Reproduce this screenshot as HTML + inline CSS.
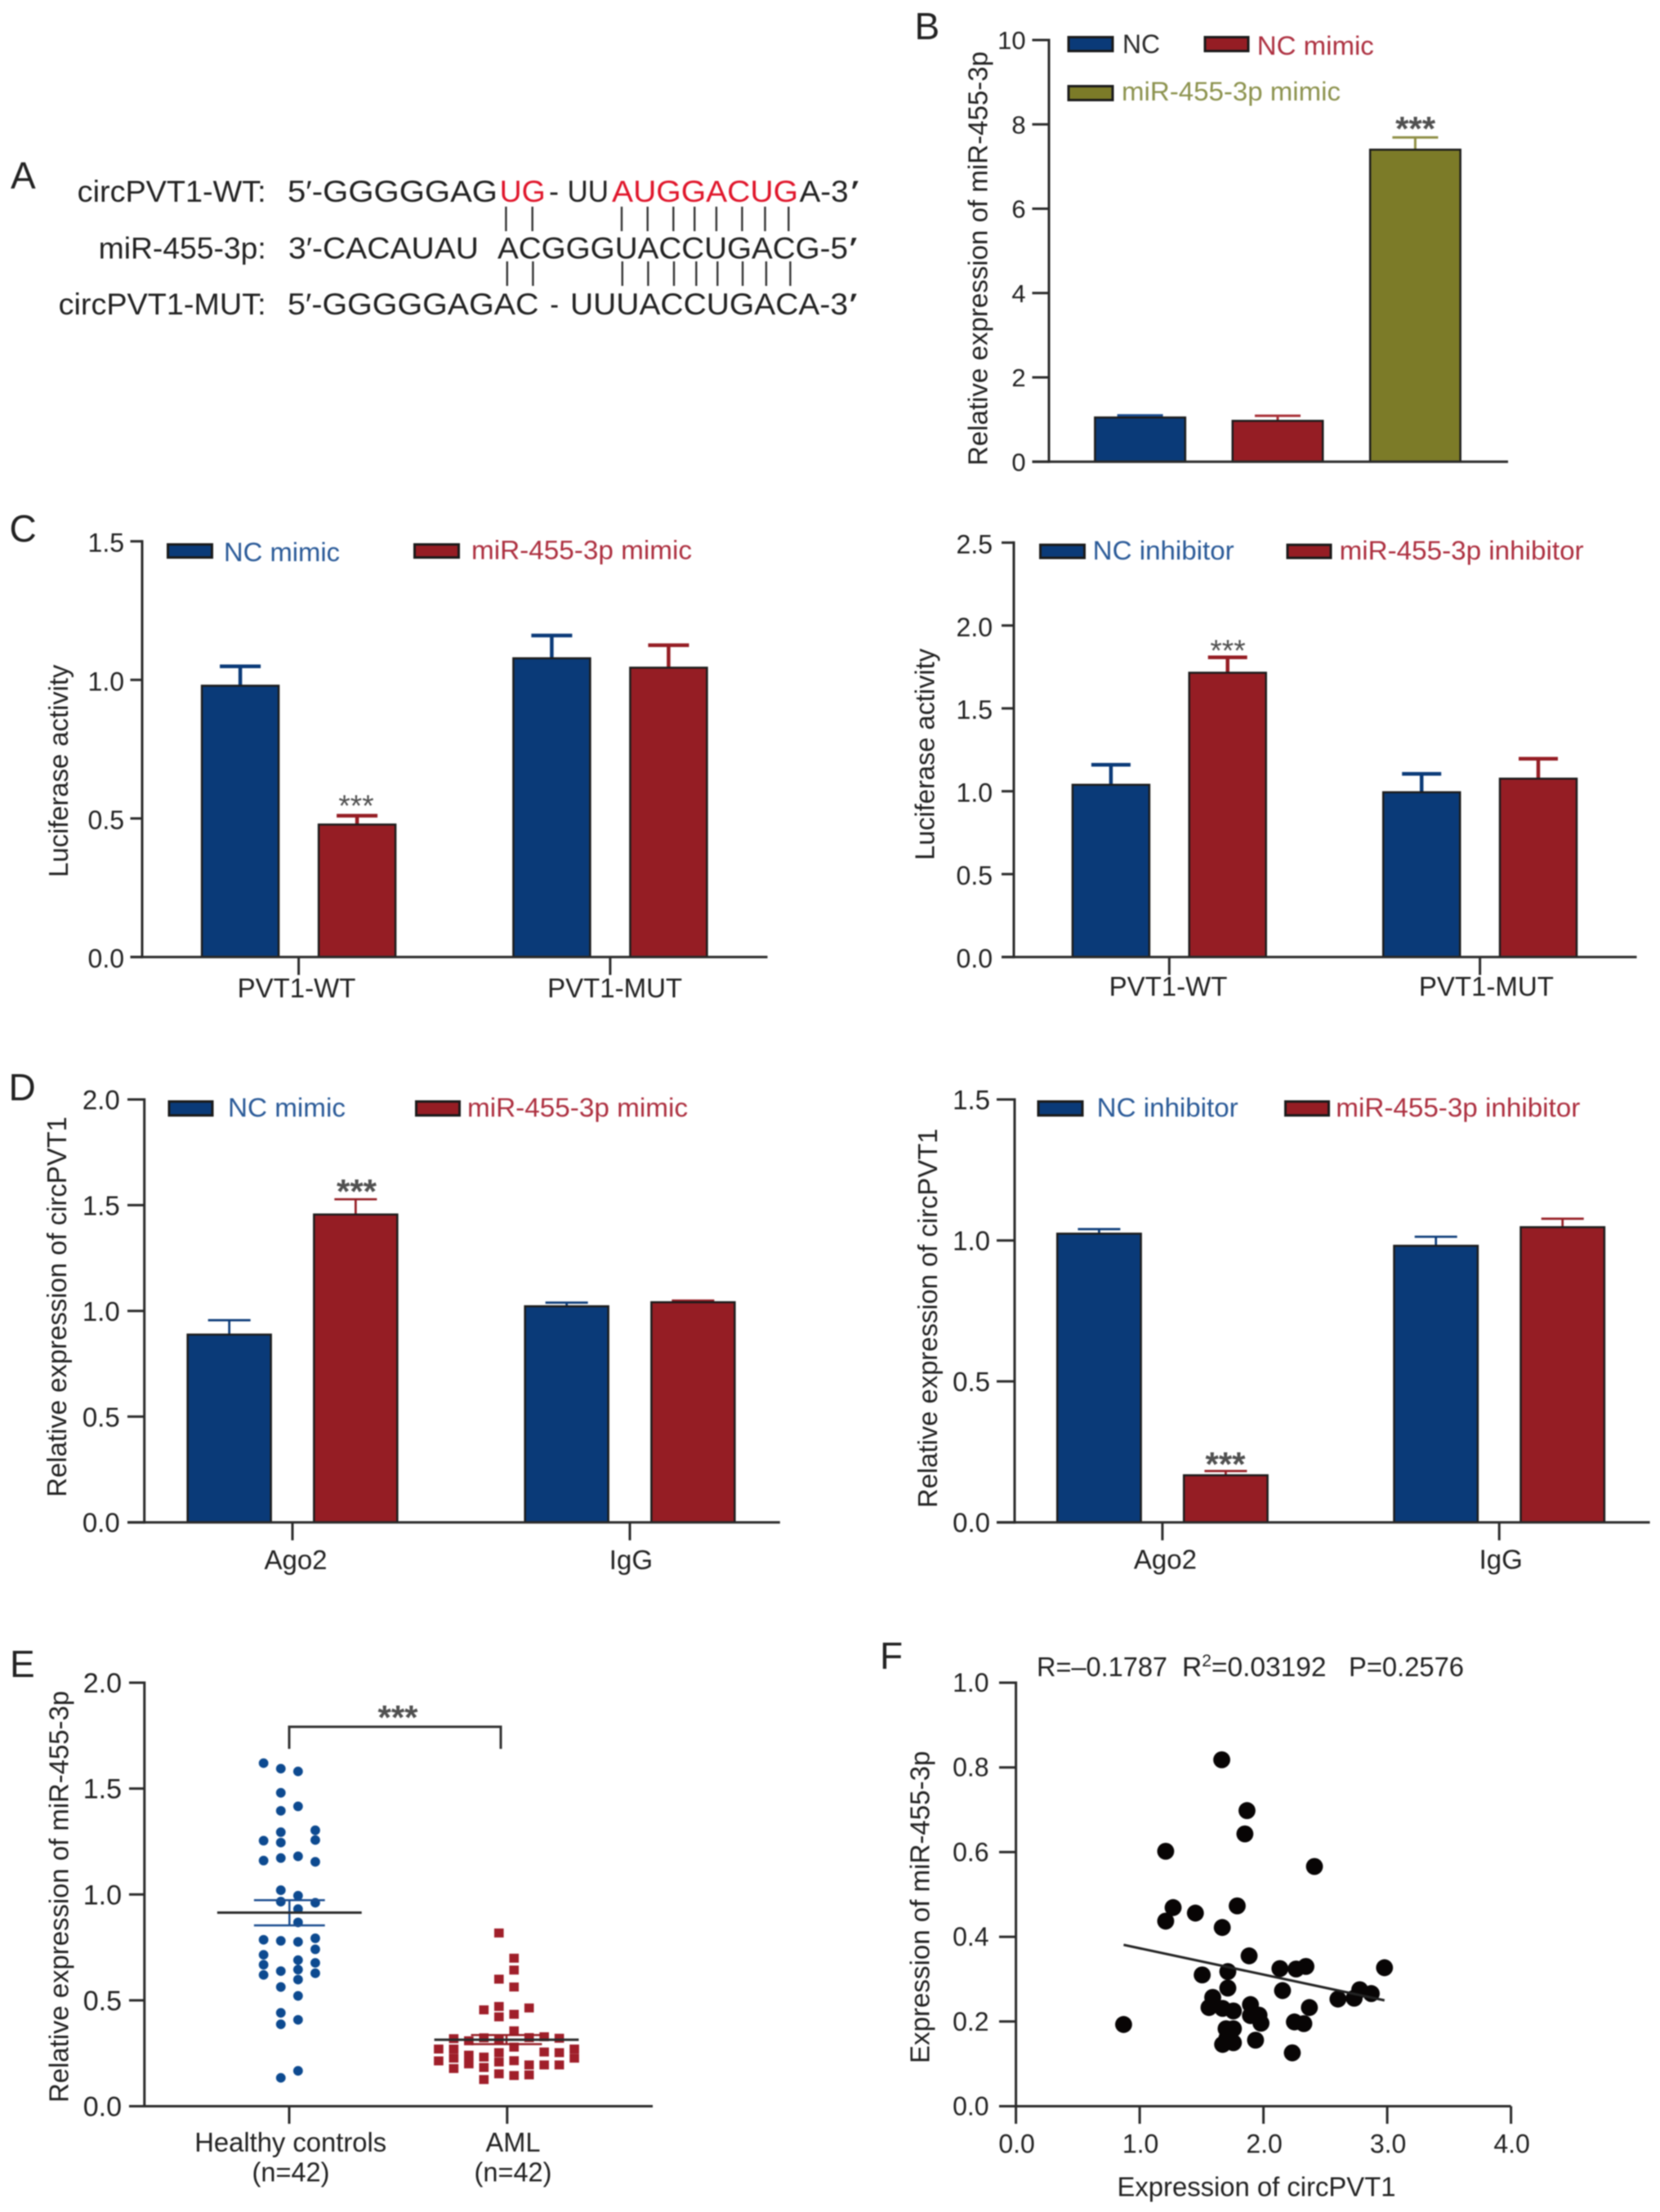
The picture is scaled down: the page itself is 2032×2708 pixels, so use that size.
<!DOCTYPE html>
<html lang="en">
<head>
<meta charset="utf-8">
<title>circPVT1 and miR-455-3p figure</title>
<style>
html,body{margin:0;padding:0;background:#fff;}
#figure{display:block;width:2032px;height:2708px;filter:blur(.7px);}
text{font-family:"Liberation Sans",sans-serif;fill:#222;}
</style>
</head>
<body>
<svg id="figure" xmlns="http://www.w3.org/2000/svg" width="2032" height="2708" viewBox="0 0 2032 2708">
<rect x="0" y="0" width="2032" height="2708" fill="#fff"/>
<g font-size="37">
<text x="13" y="231" font-size="46">A</text>
<text x="94.7" y="247" textLength="231" lengthAdjust="spacingAndGlyphs">circPVT1-WT:</text>
<text x="120.7" y="316.5" textLength="205" lengthAdjust="spacingAndGlyphs">miR-455-3p:</text>
<text x="71.6" y="385" textLength="254" lengthAdjust="spacingAndGlyphs">circPVT1-MUT:</text>
<text x="352" y="247" textLength="257" lengthAdjust="spacingAndGlyphs">5′-GGGGGAG</text>
<text x="611.7" y="247" textLength="56" lengthAdjust="spacingAndGlyphs" style="fill:#e0162b">UG</text>
<text x="672" y="247" textLength="12" lengthAdjust="spacingAndGlyphs">-</text>
<text x="694.5" y="247" textLength="50.5" lengthAdjust="spacingAndGlyphs">UU</text>
<text x="749" y="247" textLength="228" lengthAdjust="spacingAndGlyphs" style="fill:#e0162b">AUGGACUG</text>
<text x="978.6" y="247" textLength="60" lengthAdjust="spacingAndGlyphs">A-3</text>
<text x="1038" y="247" textLength="11" lengthAdjust="spacingAndGlyphs" font-style="italic">′</text>
<text x="353" y="316.5" textLength="233" lengthAdjust="spacingAndGlyphs">3′-CACAUAU</text>
<text x="609" y="316.5" textLength="429" lengthAdjust="spacingAndGlyphs">ACGGGUACCUGACG-5</text>
<text x="1036" y="316.5" textLength="11" lengthAdjust="spacingAndGlyphs" font-style="italic">′</text>
<text x="352" y="385" textLength="307.5" lengthAdjust="spacingAndGlyphs">5′-GGGGGAGAC</text>
<text x="673.4" y="385" textLength="10.6" lengthAdjust="spacingAndGlyphs">-</text>
<text x="698" y="385" textLength="340" lengthAdjust="spacingAndGlyphs">UUUACCUGACA-3</text>
<text x="1036" y="385" textLength="11" lengthAdjust="spacingAndGlyphs" font-style="italic">′</text>
<g id="pairing"></g>
</g>
<text x="1119.5" y="48" font-size="46">B</text>
<text x="11.5" y="663" font-size="46">C</text>
<text x="10.5" y="1347" font-size="46">D</text>
<text x="12" y="2053" font-size="46">E</text>
<text x="1077" y="2043" font-size="46">F</text>
<g id="charts"></g>
</svg>
<script>
// Panel B
const bCategories = ['NC', 'NC mimic', 'miR-455-3p mimic'];
const bValues = [1.05, 0.97, 7.4];
const bErrors = [0.05, 0.12, 0.29];
const bTicks = ['0', '2', '4', '6', '8', '10'];
// Panel C left
const cLeftCategories = ['PVT1-WT', 'PVT1-MUT'];
const cLeftControl = [0.979, 1.078];
const cLeftTreated = [0.478, 1.044];
const cLeftControlErr = [0.07, 0.082];
const cLeftTreatedErr = [0.032, 0.081];
const cLeftTicks = ['0.0', '0.5', '1.0', '1.5'];
// Panel C right
const cRightCategories = ['PVT1-WT', 'PVT1-MUT'];
const cRightControl = [1.039, 0.994];
const cRightTreated = [1.715, 1.076];
const cRightControlErr = [0.121, 0.111];
const cRightTreatedErr = [0.093, 0.12];
const cRightTicks = ['0.0', '0.5', '1.0', '1.5', '2.0', '2.5'];
// Panel D left
const dLeftCategories = ['Ago2', 'IgG'];
const dLeftControl = [0.888, 1.022];
const dLeftTreated = [1.456, 1.041];
const dLeftControlErr = [0.068, 0.017];
const dLeftTreatedErr = [0.072, 0.008];
const dLeftTicks = ['0.0', '0.5', '1.0', '1.5', '2.0'];
// Panel D right
const dRightCategories = ['Ago2', 'IgG'];
const dRightControl = [1.024, 0.981];
const dRightTreated = [0.167, 1.047];
const dRightControlErr = [0.016, 0.032];
const dRightTreatedErr = [0.015, 0.03];
const dRightTicks = ['0.0', '0.5', '1.0', '1.5'];
// Panel E
const eHealthyValues = [1.62,1.254,1.16,0.786,0.715,0.668,0.62,
  1.594,1.48,1.395,1.294,1.245,1.172,1.02,0.966,0.781,0.638,0.563,0.441,0.387,0.134,
  1.581,1.416,1.18,0.994,0.931,0.868,0.776,0.69,0.645,0.598,0.521,0.408,0.167,
  1.303,1.257,1.154,0.961,0.793,0.741,0.677,0.628];
const eHealthyBins = [-1.5,-1.5,-1.5,-1.5,-1.5,-1.5,-1.5,
  -0.5,-0.5,-0.5,-0.5,-0.5,-0.5,-0.5,-0.5,-0.5,-0.5,-0.5,-0.5,-0.5,-0.5,
  0.5,0.5,0.5,0.5,0.5,0.5,0.5,0.5,0.5,0.5,0.5,0.5,0.5,
  1.5,1.5,1.5,1.5,1.5,1.5,1.5,1.5];
const eAmlValues = [0.27,0.214,
  0.319,0.27,0.227,0.178,
  0.309,0.241,0.2,
  0.455,0.323,0.232,0.183,0.126,
  0.818,0.6,0.471,0.422,0.314,0.253,0.209,0.153,
  0.699,0.643,0.563,0.434,0.356,0.279,0.215,0.145,
  0.464,0.324,0.195,0.148,
  0.328,0.256,0.195,
  0.321,0.253,0.195,
  0.27,0.227];
const eAmlBins = [-4.5,-4.5,
  -3.5,-3.5,-3.5,-3.5,
  -2.5,-2.5,-2.5,
  -1.5,-1.5,-1.5,-1.5,-1.5,
  -0.5,-0.5,-0.5,-0.5,-0.5,-0.5,-0.5,-0.5,
  0.5,0.5,0.5,0.5,0.5,0.5,0.5,0.5,
  1.5,1.5,1.5,1.5,
  2.5,2.5,2.5,
  3.5,3.5,3.5,
  4.5,4.5];
const eMeans = [0.914, 0.314];
const eSemLow = [0.854, 0.293];
const eSemHigh = [0.973, 0.336];
const eTicks = ['0.0', '0.5', '1.0', '1.5', '2.0'];
// Panel F
const fCircPVT1 = [0.87,1.663,1.867,1.85,1.21,2.412,1.27,1.21,1.45,1.788,1.667,1.884,1.505,1.712,2.133,2.264,2.343,2.978,1.712,2.154,1.59,2.602,2.733,2.778,2.871,1.56,1.67,1.757,1.895,1.895,1.964,1.98,2.371,2.25,2.326,1.698,1.757,1.705,1.67,1.757,1.936,2.233];
const fMir455 = [0.193,0.818,0.698,0.643,0.602,0.566,0.469,0.437,0.456,0.473,0.422,0.355,0.31,0.318,0.325,0.324,0.33,0.327,0.279,0.273,0.257,0.253,0.255,0.275,0.266,0.233,0.231,0.225,0.24,0.214,0.215,0.196,0.233,0.199,0.195,0.183,0.183,0.161,0.146,0.15,0.156,0.126];
const fTrendX = [0.87, 2.978];
const fTrendY = [0.381, 0.25];
const fXTicks = ['0.0', '1.0', '2.0', '3.0', '4.0'];
const fYTicks = ['0.0', '0.2', '0.4', '0.6', '0.8', '1.0'];

const SVGNS = 'http://www.w3.org/2000/svg';
const BLUE = '#0a3a78', RED = '#951d24', OLIVE = '#7c7b28', INK = '#2a2a2a';
const BLUE_TEXT = '#2a5a98', RED_TEXT = '#ad3040', OLIVE_TEXT = '#8d934f';
const root = document.getElementById('charts');

function mk(parent, tag, name, attrs, content) {
  const el = document.createElementNS(SVGNS, tag);
  
  
  for (const k in attrs) el.setAttribute(k, attrs[k]);
  if (content !== undefined) el.textContent = content;
  parent.appendChild(el);
  return el;
}
function line(p, name, x1, y1, x2, y2, color, w) {
  return mk(p, 'line', name, { x1, y1, x2, y2, stroke: color, 'stroke-width': w });
}
function label(p, name, str, x, y, opts) {
  const a = Object.assign({ x, y, 'font-size': 32 }, opts || {});
  if (a.fit) { a.textLength = a.fit; a.lengthAdjust = 'spacingAndGlyphs'; delete a.fit; }
  if (a.color) { a.style = 'fill:' + a.color; delete a.color; }
  return mk(p, 'text', name, a, str);
}
function drawYAxis(g, f, ticks, scale) {
  line(g, 'y-axis-line', f.axisX, f.top - 1.5, f.axisX, f.bottom + 1.5, INK, 3);
  ticks.forEach(t => {
    const y = scale(parseFloat(t));
    line(g, 'y-tick', f.tickLeft, y, f.axisX, y, INK, 3);
    label(g, 'y-tick-label', t, f.labelRight, y + f.tickDy, { 'text-anchor': 'end', 'font-size': f.tickFont });
  });
}
function yTitle(g, str, x, y1, y2) {
  const cy = (y1 + y2) / 2;
  label(g, 'y-axis-title', str, x, cy, {
    'text-anchor': 'middle',
    transform: 'rotate(-90 ' + x + ' ' + cy + ')',
    fit: y2 - y1,
    'font-size': 33
  });
}
function legend(g, items) {
  items.forEach(it => {
    mk(g, 'rect', 'legend-swatch', { x: it.x, y: it.y, width: it.w, height: it.h, fill: it.fill, stroke: '#1a1a1a', 'stroke-width': 3 });
    label(g, 'legend-label', it.text, it.tx, it.base, { color: it.color, fit: it.tw });
  });
}
function stars(g, x, y, size, weight) {
  label(g, 'significance-stars', '***', x, y, { 'text-anchor': 'middle', 'font-size': size, 'font-weight': weight, color: '#505050' });
}
function drawBar(g, name, cx, w, val, err, color, scale, errW, capW, errColor) {
  const top = scale(val), bottom = scale(0), errTop = scale(val + err);
  line(g, name + '-error-stem', cx, top, cx, errTop, errColor || color, errW);
  line(g, name + '-error-cap', cx - capW / 2, errTop, cx + capW / 2, errTop, errColor || color, errW);
  mk(g, 'rect', name, { x: cx - w / 2, y: top, width: w, height: bottom - top, fill: color, stroke: '#1c1c1c', 'stroke-width': 2.5 });
}
function groupedChart(f, cats, control, treated, controlErr, treatedErr, ticks) {
  const g = mk(root, 'g', f.name, {});
  const max = parseFloat(ticks[ticks.length - 1]);
  const scale = v => f.bottom - (f.bottom - f.top) * v / max;
  cats.forEach((c, i) => {
    const gx = f.groupX + i * f.groupStep;
    drawBar(g, 'bar-control-' + c.toLowerCase(), gx - f.barStep / 2, f.barW, control[i], controlErr[i], BLUE, scale, f.errW, f.capW);
    drawBar(g, 'bar-treated-' + c.toLowerCase(), gx + f.barStep / 2, f.barW, treated[i], treatedErr[i], RED, scale, f.errW, f.capW);
    line(g, 'x-tick', gx, f.bottom, gx, f.bottom + 22, INK, 3);
    label(g, 'x-tick-label', c, gx + f.labelShift[i], f.labelY, { 'text-anchor': 'middle', 'font-size': f.catFont });
  });
  line(g, 'x-axis-line', f.tickLeft, f.bottom, f.axisEnd, f.bottom, INK, 3);
  drawYAxis(g, f, ticks, scale);
  yTitle(g, f.title, f.titleX, f.titleY1, f.titleY2);
  legend(g, f.legend);
  stars(g, f.starX, f.starY, f.starSize, f.starWeight);
}

// Panel B
(function () {
  const f = { axisX: 1284, top: 49, bottom: 565.3, labelRight: 1255.6, tickLeft: 1263.5, tickDy: 11, tickFont: 31 };
  const g = mk(root, 'g', 'panel-b-bar-chart', {});
  const max = parseFloat(bTicks[bTicks.length - 1]);
  const scale = v => f.bottom - (f.bottom - f.top) * v / max;
  const fills = [BLUE, RED, OLIVE], errs = ['#1a4d90', '#a83038', '#8f8f45'];
  bCategories.forEach((c, i) => {
    drawBar(g, 'bar-' + c.toLowerCase().replace(/ /g, '-'), 1395.6 + i * 168.4, 110.5, bValues[i], bErrors[i], fills[i], scale, 3, 56, errs[i]);
  });
  line(g, 'x-axis-line', f.tickLeft, f.bottom, 1846, f.bottom, INK, 3);
  drawYAxis(g, f, bTicks, scale);
  yTitle(g, 'Relative expression of miR-455-3p', 1208.7, 63, 570);
  legend(g, [
    { x: 1308, y: 45.5, w: 54, h: 17, fill: BLUE, text: bCategories[0], tx: 1374, base: 65, color: INK, tw: 46 },
    { x: 1475, y: 45.5, w: 53, h: 17, fill: RED, text: bCategories[1], tx: 1538.8, base: 67, color: RED_TEXT, tw: 143 },
    { x: 1308, y: 105.5, w: 54, h: 17, fill: OLIVE, text: bCategories[2], tx: 1373, base: 123, color: OLIVE_TEXT, tw: 268 }
  ]);
  stars(g, 1732.6, 172, 42, 'bold');
})();

groupedChart({
  name: 'panel-c-left-bar-chart', axisX: 174, axisEnd: 939.5, top: 662.7, bottom: 1171.6, labelRight: 152, tickLeft: 159.5, tickDy: 13, tickFont: 32,
  groupX: 365.6, groupStep: 381.3, barStep: 143, barW: 94, errW: 4.5, capW: 50, labelY: 1221, labelShift: [-2.6, 5.7], catFont: 33,
  title: 'Luciferase activity', titleX: 83, titleY1: 813.7, titleY2: 1074, starX: 436, starY: 999, starSize: 37, starWeight: 'normal',
  legend: [
    { x: 205.5, y: 666.5, w: 54, h: 16, fill: BLUE, text: 'NC mimic', tx: 274, base: 687, color: BLUE_TEXT, tw: 142 },
    { x: 507.5, y: 666.5, w: 54, h: 16, fill: RED, text: 'miR-455-3p mimic', tx: 577, base: 684.5, color: RED_TEXT, tw: 270 }
  ]
}, cLeftCategories, cLeftControl, cLeftTreated, cLeftControlErr, cLeftTreatedErr, cLeftTicks);

groupedChart({
  name: 'panel-c-right-bar-chart', axisX: 1241, axisEnd: 2003.5, top: 664.3, bottom: 1171.6, labelRight: 1215, tickLeft: 1226, tickDy: 13, tickFont: 32,
  groupX: 1431.3, groupStep: 380.3, barStep: 142.8, barW: 94, errW: 4.5, capW: 48, labelY: 1219, labelShift: [-1.3, 7.8], catFont: 33,
  title: 'Luciferase activity', titleX: 1143.7, titleY1: 794, titleY2: 1053, starX: 1503, starY: 809, starSize: 37, starWeight: 'normal',
  legend: [
    { x: 1273.5, y: 667, w: 54, h: 16, fill: BLUE, text: 'NC inhibitor', tx: 1337.7, base: 685, color: BLUE_TEXT, tw: 173 },
    { x: 1576, y: 667, w: 53, h: 16, fill: RED, text: 'miR-455-3p inhibitor', tx: 1639.6, base: 685, color: RED_TEXT, tw: 299 }
  ]
}, cRightCategories, cRightControl, cRightTreated, cRightControlErr, cRightTreatedErr, cRightTicks);

groupedChart({
  name: 'panel-d-left-bar-chart', axisX: 176.7, axisEnd: 954.8, top: 1346, bottom: 1863.7, labelRight: 146.7, tickLeft: 156, tickDy: 12, tickFont: 33,
  groupX: 358, groupStep: 413, barStep: 154.7, barW: 102, errW: 2.7, capW: 52, labelY: 1921, labelShift: [4, 1.4], catFont: 33,
  title: 'Relative expression of circPVT1', titleX: 81, titleY1: 1367, titleY2: 1832.7, starX: 436.5, starY: 1473, starSize: 42, starWeight: 'bold',
  legend: [
    { x: 207, y: 1348.5, w: 53, h: 17, fill: BLUE, text: 'NC mimic', tx: 279, base: 1367, color: BLUE_TEXT, tw: 144 },
    { x: 509.5, y: 1348.5, w: 53, h: 17, fill: RED, text: 'miR-455-3p mimic', tx: 572, base: 1367, color: RED_TEXT, tw: 270 }
  ]
}, dLeftCategories, dLeftControl, dLeftTreated, dLeftControlErr, dLeftTreatedErr, dLeftTicks);

groupedChart({
  name: 'panel-d-right-bar-chart', axisX: 1242, axisEnd: 2019.6, top: 1346, bottom: 1863.7, labelRight: 1212, tickLeft: 1220, tickDy: 12, tickFont: 33,
  groupX: 1422.9, groupStep: 412.3, barStep: 155, barW: 102.4, errW: 2.7, capW: 52, labelY: 1920.5, labelShift: [3.5, 2], catFont: 33,
  title: 'Relative expression of circPVT1', titleX: 1146.8, titleY1: 1381.6, titleY2: 1846, starX: 1500, starY: 1807, starSize: 42, starWeight: 'bold',
  legend: [
    { x: 1271, y: 1348.5, w: 54, h: 17, fill: BLUE, text: 'NC inhibitor', tx: 1342.7, base: 1367, color: BLUE_TEXT, tw: 173 },
    { x: 1573.5, y: 1348.5, w: 53, h: 17, fill: RED, text: 'miR-455-3p inhibitor', tx: 1635.3, base: 1367, color: RED_TEXT, tw: 299 }
  ]
}, dRightCategories, dRightControl, dRightTreated, dRightControlErr, dRightTreatedErr, dRightTicks);

// Panel E
(function () {
  const f = { axisX: 176.8, top: 2060, bottom: 2578.5, labelRight: 149, tickLeft: 158, tickDy: 12, tickFont: 34 };
  const g = mk(root, 'g', 'panel-e-dot-plot', {});
  const max = parseFloat(eTicks[eTicks.length - 1]);
  const scale = v => f.bottom - (f.bottom - f.top) * v / max;
  const centers = [354.3, 620];
  eHealthyValues.forEach((v, i) => {
    mk(g, 'circle', 'healthy-point', { cx: centers[0] + eHealthyBins[i] * 21.1, cy: scale(v), r: 5.9, fill: '#0d4a90' });
  });
  eAmlValues.forEach((v, i) => {
    const x = centers[1] + eAmlBins[i] * 18.46;
    mk(g, 'rect', 'aml-point', { x: x - 5.8, y: scale(v) - 5.5, width: 11.6, height: 11, fill: '#a01f2a' });
  });
  [0, 1].forEach(i => {
    const c = i ? RED : '#1a4d90', cx = centers[i];
    line(g, 'sem-stem', cx, scale(eSemLow[i]), cx, scale(eSemHigh[i]), c, 2.5);
    line(g, 'sem-low-cap', cx - 43.4, scale(eSemLow[i]), cx + 43.4, scale(eSemLow[i]), c, 2.5);
    line(g, 'sem-high-cap', cx - 43.4, scale(eSemHigh[i]), cx + 43.4, scale(eSemHigh[i]), c, 2.5);
    line(g, 'mean-line', cx - 88.4, scale(eMeans[i]), cx + 88.4, scale(eMeans[i]), INK, 3);
  });
  line(g, 'x-axis-line', f.tickLeft, f.bottom, 799, f.bottom, INK, 3);
  line(g, 'x-tick', 354, f.bottom, 354, 2600, INK, 3);
  line(g, 'x-tick', 620.8, f.bottom, 620.8, 2600, INK, 3);
  drawYAxis(g, f, eTicks, scale);
  yTitle(g, 'Relative expression of miR-455-3p', 83.7, 2070, 2574);
  label(g, 'x-tick-label', 'Healthy controls', 355.7, 2634, { 'text-anchor': 'middle', fit: 235, 'font-size': 33 });
  label(g, 'x-tick-sublabel', '(n=42)', 356, 2670.5, { 'text-anchor': 'middle', fit: 95, 'font-size': 33 });
  label(g, 'x-tick-label', 'AML', 628, 2634, { 'text-anchor': 'middle', fit: 67, 'font-size': 33 });
  label(g, 'x-tick-sublabel', '(n=42)', 628, 2670.5, { 'text-anchor': 'middle', fit: 95, 'font-size': 33 });
  mk(g, 'path', 'significance-bracket', { d: 'M354 2141V2114H613V2141', fill: 'none', stroke: '#333', 'stroke-width': 3 });
  stars(g, 487, 2117, 42, 'bold');
})();

// Panel F
(function () {
  const g = mk(root, 'g', 'panel-f-scatter-plot', {});
  const f = { axisX: 1243.6, top: 2060, bottom: 2578.5, labelRight: 1210.6, tickLeft: 1223, tickDy: 11, tickFont: 32 };
  const xMax = parseFloat(fXTicks[fXTicks.length - 1]);
  const yMax = parseFloat(fYTicks[fYTicks.length - 1]);
  const xs = v => f.axisX + 606 * v / xMax;
  const ys = v => f.bottom - (f.bottom - f.top) * v / yMax;
  fCircPVT1.forEach((v, i) => {
    mk(g, 'circle', 'scatter-point', { cx: xs(v), cy: ys(fMir455[i]), r: 10.4, fill: '#080505' });
  });
  line(g, 'trend-line', xs(fTrendX[0]), ys(fTrendY[0]), xs(fTrendX[1]), ys(fTrendY[1]), '#222', 3);
  line(g, 'x-axis-line', f.tickLeft, f.bottom, xs(xMax), f.bottom, INK, 3);
  fXTicks.forEach(t => {
    const x = xs(parseFloat(t));
    line(g, 'x-tick', x, f.bottom, x, 2600, INK, 3);
    label(g, 'x-tick-label', t, x + 1, 2635.7, { 'text-anchor': 'middle', 'font-size': 32 });
  });
  drawYAxis(g, f, fYTicks, ys);
  yTitle(g, 'Expression of miR-455-3p', 1137.4, 2143.6, 2526);
  label(g, 'x-axis-title', 'Expression of circPVT1', 1367.5, 2688.5, { fit: 341, 'font-size': 33 });
  label(g, 'stat-r', 'R=–0.1787', 1269, 2052, { fit: 160, 'font-size': 33 });
  const r2 = label(g, 'stat-r-squared', 'R', 1447, 2052, { 'font-size': 33.5 });
  mk(r2, 'tspan', 'stat-r-squared-exponent', { dy: -12, 'font-size': 21 }, '2');
  mk(r2, 'tspan', 'stat-r-squared-value', { dy: 12 }, '=0.03192');
  label(g, 'stat-p', 'P=0.2576', 1651, 2052, { fit: 141, 'font-size': 33 });
})();

// Panel A connector ticks
(function () {
  const pairing = document.getElementById('pairing');
  const upperRows = [619.4, 651.7, 761, 792.7, 824.3, 850.2, 876.9, 908.4, 936.5, 965.3];
  const lowerRows = [620.8, 652.4, 761.8, 793.4, 825, 852.3, 878.3, 909.1, 937.9, 967.4];
  upperRows.forEach(x => line(pairing, 'upper-pair-line', x, 253, x, 283, '#333', 2.4));
  lowerRows.forEach(x => line(pairing, 'lower-pair-line', x, 320, x, 350, '#333', 2.4));
})();
</script>
</body>
</html>
